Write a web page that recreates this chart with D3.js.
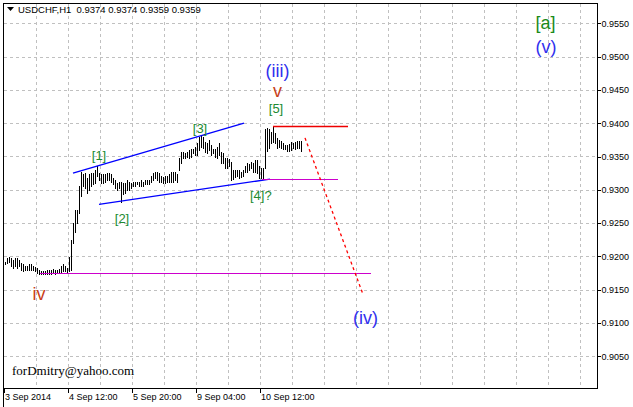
<!DOCTYPE html>
<html><head><meta charset="utf-8">
<script src="https://cdn.jsdelivr.net/npm/d3@7"></script>
<style>
html,body{margin:0;padding:0;background:#fff;}
svg{display:block;}
</style></head><body>
<svg id="c" width="633" height="407"></svg>
<script>
// ---------- data ----------
const symbol = "USDCHF,H1";
const lastOHLC = [0.9374, 0.9374, 0.9359, 0.9359];

const highs = [
0.9192,0.9198,0.9199,0.9197,0.9195,0.9198,0.9198,0.9195,0.9190,0.9188,
0.9186,0.9186,0.9188,0.9189,0.9186,0.9184,0.9183,0.9180,0.9178,0.9178,
0.9178,0.9179,0.9180,0.9179,0.9181,0.9179,0.9179,0.9181,0.9186,0.9189,
0.9185,0.9183,0.9199,0.9225,0.9250,0.9270,0.9270,0.9305,0.9327,0.9323,
0.9325,0.9318,0.9323,0.9325,0.9325,0.9330,0.9335,0.9325,0.9323,0.9323,
0.9323,0.9325,0.9325,0.9323,0.9318,0.9315,0.9310,0.9312,0.9312,0.9310,
0.9310,0.9314,0.9312,0.9310,0.9312,0.9312,0.9312,0.9312,0.9314,0.9312,
0.9314,0.9315,0.9315,0.9321,0.9325,0.9327,0.9326,0.9325,0.9320,0.9319,
0.9320,0.9320,0.9323,0.9326,0.9327,0.9327,0.9323,0.9348,0.9357,0.9357,
0.9355,0.9357,0.9360,0.9362,0.9362,0.9365,0.9370,0.9380,0.9383,0.9380,
0.9372,0.9370,0.9375,0.9368,0.9362,0.9362,0.9365,0.9370,0.9357,0.9355,
0.9347,0.9347,0.9346,0.9342,0.9330,0.9329,0.9329,0.9329,0.9327,0.9330,
0.9336,0.9340,0.9339,0.9342,0.9340,0.9344,0.9345,0.9336,0.9333,0.9333,
0.9392,0.9393,0.9392,0.9387,0.9395,0.9385,0.9378,0.9375,0.9374,0.9370,
0.9368,0.9368,0.9369,0.9372,0.9371,0.9372,0.9374,0.9374,0.9374
];
const lows = [
0.9188,0.9190,0.9192,0.9185,0.9183,0.9185,0.9183,0.9186,0.9180,0.9178,
0.9180,0.9179,0.9180,0.9180,0.9179,0.9178,0.9175,0.9173,0.9173,0.9174,
0.9174,0.9174,0.9174,0.9174,0.9175,0.9174,0.9175,0.9175,0.9175,0.9178,
0.9178,0.9176,0.9178,0.9180,0.9220,0.9237,0.9250,0.9265,0.9290,0.9305,
0.9303,0.9295,0.9300,0.9305,0.9308,0.9310,0.9320,0.9315,0.9310,0.9310,
0.9311,0.9315,0.9315,0.9312,0.9308,0.9303,0.9300,0.9303,0.9282,0.9293,
0.9295,0.9300,0.9300,0.9303,0.9305,0.9305,0.9308,0.9305,0.9306,0.9306,
0.9308,0.9308,0.9309,0.9312,0.9315,0.9318,0.9315,0.9312,0.9312,0.9310,
0.9310,0.9312,0.9312,0.9311,0.9312,0.9315,0.9312,0.9329,0.9340,0.9348,
0.9348,0.9350,0.9348,0.9350,0.9355,0.9352,0.9352,0.9360,0.9365,0.9363,
0.9357,0.9355,0.9360,0.9352,0.9355,0.9350,0.9348,0.9352,0.9340,0.9340,
0.9333,0.9333,0.9335,0.9314,0.9316,0.9319,0.9320,0.9318,0.9319,0.9320,
0.9326,0.9327,0.9329,0.9332,0.9327,0.9326,0.9325,0.9318,0.9317,0.9316,
0.9332,0.9359,0.9363,0.9371,0.9372,0.9370,0.9363,0.9365,0.9363,0.9361,
0.9362,0.9359,0.9358,0.9360,0.9363,0.9361,0.9363,0.9363,0.9359
];

const priceTicks = [0.9050,0.9100,0.9150,0.9200,0.9250,0.9300,0.9350,0.9400,0.9450,0.9500,0.9550];
const timeTickIndex = [0, 32, 64, 96, 128];
const timeTickLabels = ["3 Sep 2014", "4 Sep 12:00", "5 Sep 20:00", "9 Sep 04:00", "10 Sep 12:00"];
const gridIndex = [16,32,48,64,80,96,112,128,144,160,176,192,208,224,240,256,272,288];

// trend objects: [barIndex, price]
const channelUpper = [[34, 0.9325], [119.5, 0.9400]];
const channelLower = [[47, 0.9278], [132.5, 0.9316]];
const level5 = [[134, 0.9395], [171.5, 0.9395]];
const level4 = [[128.5, 0.93165], [166.5, 0.93165]];
const levelIv = [[17.5, 0.9175], [183, 0.9175]];
const projection = [[150, 0.9378], [179, 0.9143]];

// wave labels: text, bar index, price (baseline)
const minorLabels = [
  ["[1]", 47, 0.9344], ["[2]", 58.5, 0.9250], ["[3]", 97.5, 0.9385],
  ["[5]", 135.5, 0.9415]
];
const minorLabelStart = [["[4]?", 122.5, 0.9285]];
const redLabels = [["v", 136.25, 0.9439], ["iv", 17, 0.9135]];
const blueLabels = [["(iii)", 136.25, 0.9469], ["(iv)", 180.25, 0.9098], ["(v)", 270.5, 0.9505]];
const greenBig = [["[a]", 270.25, 0.9541]];
const signature = "forDmitry@yahoo.com";

// ---------- drawing ----------
const svg = d3.select("#c");
const L = 3.5, R = 597.5, T = 3.5, B = 388.5;
const x = d3.scaleLinear().domain([-0.5, 296.25]).range([4, 597.5]);
const y = d3.scaleLinear().domain([0.9050, 0.9550]).range([356.3, 23.3]);
const font = "'Liberation Sans', Arial, sans-serif";

svg.append("rect").attr("width",633).attr("height",407).attr("fill","#fff");

// grid
const grid = svg.append("g").attr("stroke","#c0c0c0").attr("stroke-dasharray","3,3")
  .attr("shape-rendering","crispEdges");
grid.selectAll("line.h").data(priceTicks).join("line")
  .attr("x1", L).attr("x2", R)
  .attr("y1", d => Math.round(y(d)) + 0.5).attr("y2", d => Math.round(y(d)) + 0.5);
grid.selectAll("line.v").data(gridIndex).join("line")
  .attr("x1", d => Math.round(x(d) - 1.5) + 0.5).attr("x2", d => Math.round(x(d) - 1.5) + 0.5)
  .attr("y1", T).attr("y2", B);

// frame
svg.append("path").attr("fill","none").attr("stroke","#000").attr("shape-rendering","crispEdges")
  .attr("d", `M${L},407 V${T} H${R} V${B} H${L}`);

// right axis
const yAxis = d3.axisRight(y).tickValues(priceTicks).tickSize(3).tickPadding(1)
  .tickFormat(d3.format(".4f"));
const ya = svg.append("g").attr("transform", `translate(${R},0)`).call(yAxis);
ya.select(".domain").remove();
ya.selectAll(".tick line").attr("stroke","#000").attr("shape-rendering","crispEdges");
ya.selectAll(".tick text").attr("font-family", font).attr("font-size", 9).attr("fill","#000")
  .attr("dy","0.32em");

// bottom axis
const xAxis = d3.axisBottom(x).tickValues(timeTickIndex).tickSize(4).tickPadding(2)
  .tickFormat((d,i) => timeTickLabels[i]);
const xa = svg.append("g").attr("transform", `translate(-1.5,${B})`).call(xAxis);
xa.select(".domain").remove();
xa.selectAll(".tick line").attr("stroke","#000").attr("shape-rendering","crispEdges");
xa.selectAll(".tick text").attr("font-family", font).attr("font-size", 9).attr("fill","#000")
  .attr("text-anchor","start").attr("x", 1).attr("y", 5).attr("dy","0.71em");

// bars
svg.append("g").attr("stroke","#000").attr("stroke-width",1).attr("shape-rendering","crispEdges")
  .selectAll("line").data(highs).join("line")
  .attr("x1", (d,i) => x(i) + 0.5).attr("x2", (d,i) => x(i) + 0.5)
  .attr("y1", d => y(d)).attr("y2", (d,i) => y(lows[i]) + 1);

// trend objects
function seg(pts, color, w, dash, crisp) {
  svg.append("line")
    .attr("x1", x(pts[0][0])).attr("y1", crisp ? Math.round(y(pts[0][1])) + 0.5 : y(pts[0][1]))
    .attr("x2", x(pts[1][0])).attr("y2", crisp ? Math.round(y(pts[1][1])) + 0.5 : y(pts[1][1]))
    .attr("stroke", color).attr("stroke-width", w)
    .attr("stroke-dasharray", dash || null)
    .attr("shape-rendering", crisp ? "crispEdges" : null);
}
seg(channelUpper, "#0000ff", 1.3);
seg(channelLower, "#0000ff", 1.3);
seg(levelIv, "#cc00cc", 1, null, true);
seg(level4, "#cc00cc", 1, null, true);
seg(level5, "#ee0000", 1.6);
seg(projection, "#ff0000", 1.3, "3,3");

// labels
function labels(arr, color, size, anchor) {
  svg.append("g").selectAll("text").data(arr).join("text")
    .attr("x", d => x(d[1])).attr("y", d => y(d[2]))
    .attr("text-anchor", anchor).attr("font-family", font).attr("font-size", size)
    .attr("fill", color).text(d => d[0]);
}
labels(minorLabels, "#208a30", 13, "middle");
labels(minorLabelStart, "#208a30", 13, "start");
labels(redLabels, "#c8401a", 18, "middle");
labels(blueLabels, "#3030ee", 18, "middle");
labels(greenBig, "#1a8a1a", 18, "middle");

// title
svg.append("path").attr("d","M7,7 L14,7 L10.5,11 Z").attr("fill","#000");
svg.append("text").attr("x", 18).attr("y", 12.5).attr("font-family", font).attr("font-size", 9.5)
  .attr("fill","#000").attr("xml:space","preserve")
  .text(symbol + "  " + lastOHLC.map(d => d3.format(".4f")(d)).join(" "));

// signature
svg.append("text").attr("x", 12).attr("y", 375).attr("font-family","'Liberation Serif', 'Times New Roman', serif")
  .attr("font-size", 13).attr("fill","#000").text(signature);
</script>
</body></html>
